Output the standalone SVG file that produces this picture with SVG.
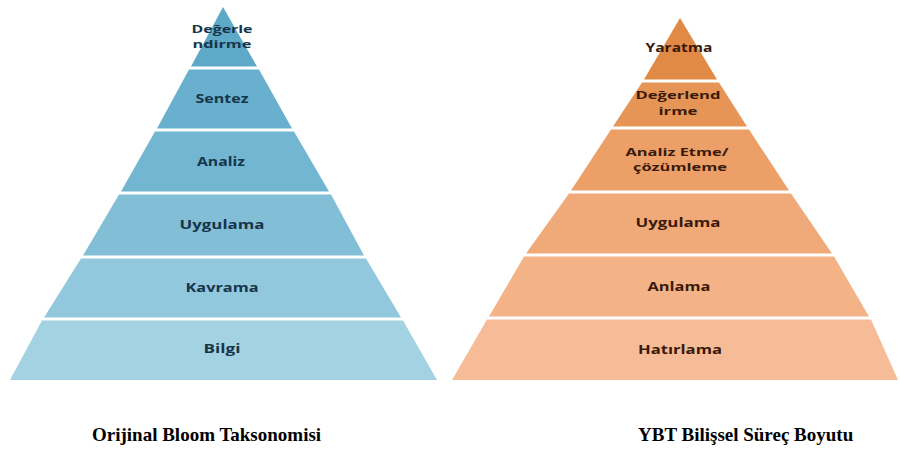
<svg xmlns="http://www.w3.org/2000/svg" width="900" height="457" viewBox="0 0 900 457">
<style>
.lt{font-family:"Open Sans","Liberation Sans",sans-serif;font-weight:700;font-size:12px;fill:#17354a;text-anchor:middle}
.rt{font-family:"Open Sans","Liberation Sans",sans-serif;font-weight:700;font-size:12px;fill:#3a1a0a;text-anchor:middle}
.sm{font-size:10.5px}
.cap{font-family:"Liberation Serif","Times New Roman",serif;font-weight:700;font-size:19px;fill:#000}
</style>
<rect width="900" height="457" fill="#ffffff"/>
<g id="bloom-original">
<g id="l-degerlendirme"><polygon points="223,7 257,66.5 191,66.5" fill="#5ea9c8"/><text class="lt sm" x="222" y="33" textLength="61" lengthAdjust="spacingAndGlyphs">Değerle</text><text class="lt sm" x="222" y="48" textLength="59" lengthAdjust="spacingAndGlyphs">ndirme</text></g>
<g id="l-sentez"><polygon points="189,69.5 259,69.5 292,128.5 157,128.5" fill="#68b0cd"/><text class="lt" x="222" y="103" textLength="53" lengthAdjust="spacingAndGlyphs">Sentez</text></g>
<g id="l-analiz"><polygon points="155,131.5 294,131.5 329,191.5 121,191.5" fill="#73b6d1"/><text class="lt" x="221" y="166" textLength="48" lengthAdjust="spacingAndGlyphs">Analiz</text></g>
<g id="l-uygulama"><polygon points="119,194.5 331,194.5 364,255.5 83,255.5" fill="#82bfd7"/><text class="lt" x="222" y="229" textLength="85" lengthAdjust="spacingAndGlyphs">Uygulama</text></g>
<g id="l-kavrama"><polygon points="81,258.5 366,258.5 401,317.5 44,317.5" fill="#92c8dd"/><text class="lt" x="222" y="292" textLength="73" lengthAdjust="spacingAndGlyphs">Kavrama</text></g>
<g id="l-bilgi"><polygon points="42,320.5 403,320.5 437,380 10,380" fill="#a3d2e3"/><text class="lt" x="222" y="353" textLength="37" lengthAdjust="spacingAndGlyphs">Bilgi</text></g>
</g>
<g id="ybt">
<g id="r-yaratma"><polygon points="680,18 717,79.5 644,79.5" fill="#e08a45"/><text class="rt" x="679" y="52" textLength="67" lengthAdjust="spacingAndGlyphs">Yaratma</text></g>
<g id="r-degerlendirme"><polygon points="642,82.5 719,82.5 747,126.5 613,126.5" fill="#e79557"/><text class="rt sm" x="678" y="99" textLength="85" lengthAdjust="spacingAndGlyphs">Değerlend</text><text class="rt sm" x="678" y="115" textLength="39" lengthAdjust="spacingAndGlyphs">irme</text></g>
<g id="r-analiz"><polygon points="611,129.5 749,129.5 789,190.5 571,190.5" fill="#eca068"/><text class="rt sm" x="677" y="156" textLength="103" lengthAdjust="spacingAndGlyphs">Analiz Etme/</text><text class="rt sm" x="680" y="171" textLength="94" lengthAdjust="spacingAndGlyphs">çözümleme</text></g>
<g id="r-uygulama"><polygon points="569,193.5 791,193.5 832,253.5 526,253.5" fill="#f0aa79"/><text class="rt" x="678" y="227" textLength="85" lengthAdjust="spacingAndGlyphs">Uygulama</text></g>
<g id="r-anlama"><polygon points="524,256.5 834,256.5 869,316.5 489,316.5" fill="#f3b387"/><text class="rt" x="679" y="291" textLength="63" lengthAdjust="spacingAndGlyphs">Anlama</text></g>
<g id="r-hatirlama"><polygon points="487,319.5 871,319.5 898,380 452,380" fill="#f6bc98"/><text class="rt" x="680" y="354" textLength="84" lengthAdjust="spacingAndGlyphs">Hatırlama</text></g>
</g>
<g id="connectors"></g>
<g id="captions">
<text class="cap" x="92" y="441">Orijinal Bloom Taksonomisi</text>
<text class="cap" x="638" y="441">YBT Bilişsel Süreç Boyutu</text>
</g>
</svg>
